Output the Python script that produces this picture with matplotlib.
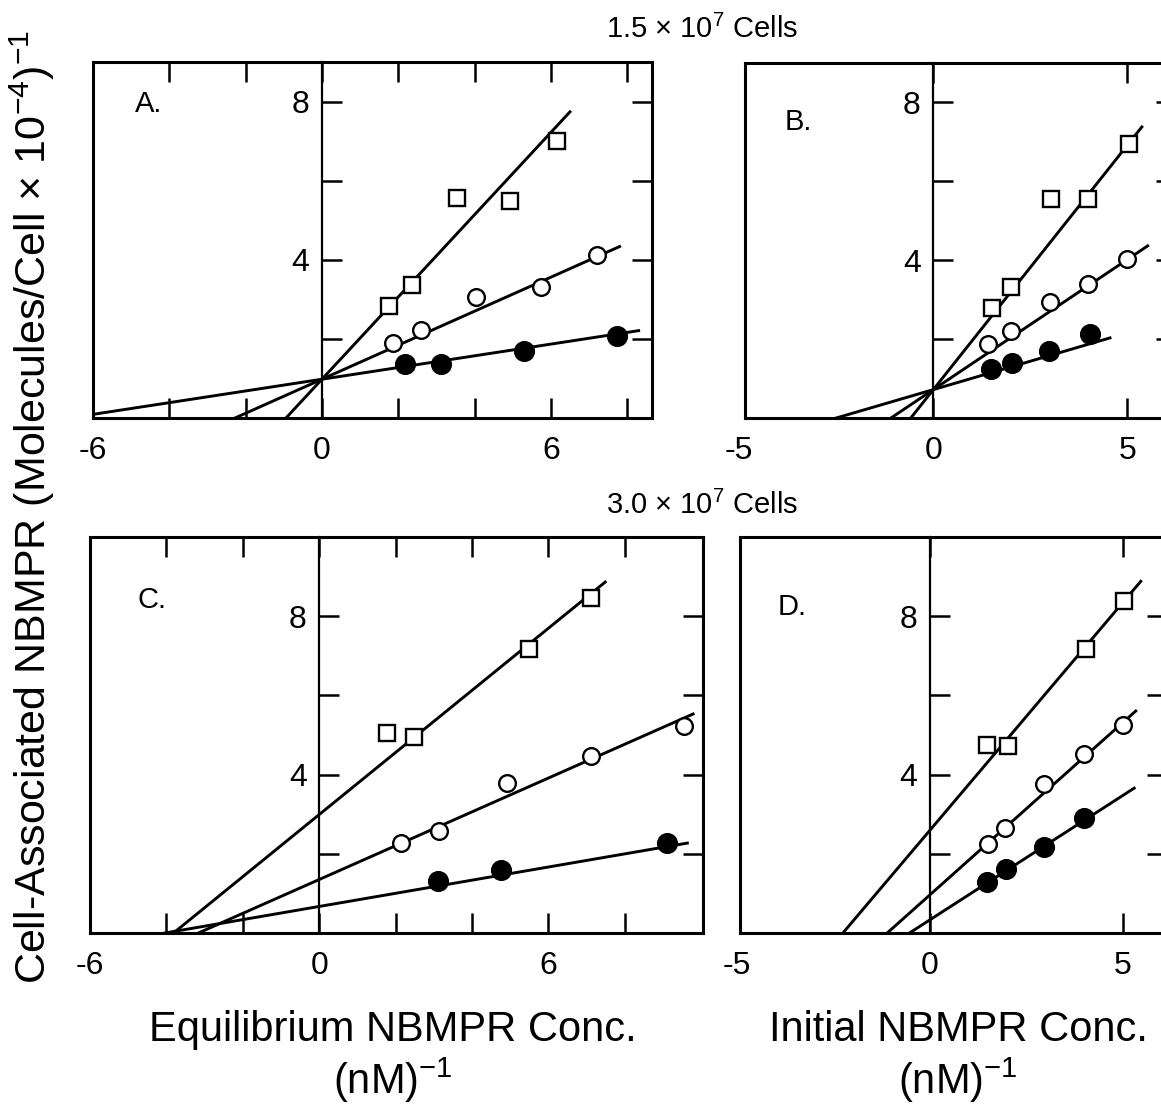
import matplotlib
matplotlib.use("Agg")
import matplotlib.pyplot as plt
from matplotlib.lines import Line2D
import numpy as np

FAMILY = ["Liberation Sans", "DejaVu Sans"]
plt.rcParams["font.family"] = FAMILY
plt.rcParams["mathtext.fontset"] = "custom"
plt.rcParams["mathtext.rm"] = "Liberation Sans"
plt.rcParams["mathtext.it"] = "Liberation Sans"
plt.rcParams["mathtext.bf"] = "Liberation Sans"

# ---- Panel A: 1.5e7 cells, equilibrium concentration ----
a_sq_x = [1.75, 2.37, 3.55, 4.92, 6.15]
a_sq_y = [2.83, 3.36, 5.57, 5.49, 7.00]
a_oc_x = [1.87, 2.60, 4.05, 5.74, 7.22]
a_oc_y = [1.90, 2.23, 3.06, 3.30, 4.13]
a_fc_x = [2.17, 3.12, 5.30, 7.72]
a_fc_y = [1.36, 1.36, 1.70, 2.07]
# fitted lines: (intercept, slope, x_start, x_end) for squares, open, filled
a_fits = [(0.98, 1.04, -0.94, 6.50), (0.98, 0.43, -2.28, 7.80), (0.98, 0.148, -6.60, 8.30)]

# ---- Panel B: 1.5e7 cells, initial concentration ----
b_sq_x = [1.51, 2.01, 3.02, 3.99, 5.03]
b_sq_y = [2.80, 3.33, 5.55, 5.55, 6.95]
b_oc_x = [1.42, 2.01, 3.00, 3.99, 5.00]
b_oc_y = [1.88, 2.20, 2.95, 3.39, 4.03]
b_fc_x = [1.49, 2.03, 2.97, 4.03]
b_fc_y = [1.23, 1.40, 1.69, 2.12]
b_fits = [(0.72, 1.24, -0.58, 5.37), (0.72, 0.66, -1.09, 5.52), (0.72, 0.288, -2.50, 4.55)]

# ---- Panel C: 3.0e7 cells, equilibrium concentration ----
c_sq_x = [1.77, 2.49, 5.49, 7.11]
c_sq_y = [5.04, 4.94, 7.18, 8.45]
c_oc_x = [2.15, 3.13, 4.92, 7.13, 9.54]
c_oc_y = [2.27, 2.57, 3.79, 4.46, 5.22]
c_fc_x = [3.11, 4.75, 9.10]
c_fc_y = [1.31, 1.58, 2.27]
c_fits = [(2.99, 0.784, -3.81, 7.49), (1.35, 0.427, -3.16, 9.79), (0.67, 0.166, -4.04, 9.64)]

# ---- Panel D: 3.0e7 cells, initial concentration ----
d_sq_x = [1.48, 2.03, 4.05, 5.04]
d_sq_y = [4.75, 4.73, 7.18, 8.38]
d_oc_x = [1.51, 1.94, 2.97, 4.01, 5.00]
d_oc_y = [2.26, 2.64, 3.77, 4.52, 5.26]
d_fc_x = [1.48, 1.97, 2.97, 4.01]
d_fc_y = [1.30, 1.61, 2.16, 2.90]
d_fits = [(2.59, 1.15, -2.25, 5.47), (0.96, 0.87, -1.10, 5.34), (0.33, 0.628, -0.53, 5.30)]

W, H = 1161, 1110
fig = plt.figure(figsize=(W / 100, H / 100), dpi=100)
fig.patch.set_facecolor("white")


def rect(left, top, right, bottom):
    return [left / W, 1 - bottom / H, (right - left) / W, (bottom - top) / H]


def panel(box, xlim, ylim, xmarks, xlabels, letter, letter_xy, sq, oc, fc, fits):
    ax = fig.add_axes(box)
    ax.set_xlim(*xlim)
    ax.set_ylim(*ylim)
    for s in ("top", "right", "bottom"):
        ax.spines[s].set_linewidth(2.2)
    # the y axis sits on x = 0; a separate frame line closes the box on the left
    ax.spines["left"].set_position(("data", 0))
    ax.spines["left"].set_linewidth(1.6)
    ax.add_line(Line2D([0, 0], [0, 1], transform=ax.transAxes, color="black",
                       linewidth=2.2, clip_on=False, solid_capstyle="projecting"))

    ax.set_xticks(xmarks)
    ax.set_xticklabels([])
    ax.set_yticks([2, 4, 6, 8])
    ax.set_yticklabels(["", "4", "", "8"])
    ax.tick_params(axis="x", which="major", direction="in", top=True, bottom=True,
                   length=14.5, width=1.8)
    ax.tick_params(axis="y", which="major", direction="in", left=True, right=True,
                   length=14.5, width=1.8, pad=9, labelsize=23)
    for v, s in xlabels:
        ax.annotate(s, xy=(v, 0), xycoords=("data", "axes fraction"),
                    xytext=(0, -13), textcoords="offset points",
                    ha="center", va="top", fontsize=23, annotation_clip=False)

    kw = dict(linestyle="none", markeredgecolor="black", markeredgewidth=1.7)
    for (b0, m, x0, x1) in fits:
        xs = np.array([x0, x1])
        ax.plot(xs, b0 + m * xs, color="black", linewidth=2.1, zorder=2)
    ax.plot(*sq, marker="s", markersize=11, markerfacecolor="white", zorder=3, **kw)
    ax.plot(*oc, marker="o", markersize=12, markerfacecolor="white", zorder=3, **kw)
    ax.plot(*fc, marker="o", markersize=13.5, markerfacecolor="black", zorder=3, **kw)
    ax.text(letter_xy[0], letter_xy[1], letter, transform=ax.transAxes,
            fontsize=21, ha="left", va="center")
    return ax


panel(rect(93, 62, 652, 418), (-6, 8.65), (0, 9), [-6, -4, -2, 0, 2, 4, 6, 8],
      [(-6, "-6"), (0, "0"), (6, "6")], "A.", (0.075, 0.882),
      (a_sq_x, a_sq_y), (a_oc_x, a_oc_y), (a_fc_x, a_fc_y), a_fits)
panel(rect(745, 63, 1176, 418), (-4.85, 6.25), (0, 9), [0, 5],
      [(-5, "-5"), (0, "0"), (5, "5")], "B.", (0.093, 0.834),
      (b_sq_x, b_sq_y), (b_oc_x, b_oc_y), (b_fc_x, b_fc_y), b_fits)
panel(rect(90, 537, 703, 933), (-6, 10.05), (0, 10), [-6, -4, -2, 0, 2, 4, 6, 8],
      [(-6, "-6"), (0, "0"), (6, "6")], "C.", (0.077, 0.841),
      (c_sq_x, c_sq_y), (c_oc_x, c_oc_y), (c_fc_x, c_fc_y), c_fits)
panel(rect(740, 537, 1167, 933), (-4.92, 6.15), (0, 10), [0, 5],
      [(-5, "-5"), (0, "0"), (5, "5")], "D.", (0.089, 0.823),
      (d_sq_x, d_sq_y), (d_oc_x, d_oc_y), (d_fc_x, d_fc_y), d_fits)

fig.text(702 / W, 1 - 29 / H, "1.5 \u00d7 10$^{7}$ Cells", ha="center", va="center", fontsize=21)
fig.text(702 / W, 1 - 505 / H, "3.0 \u00d7 10$^{7}$ Cells", ha="center", va="center", fontsize=21)
fig.text(32 / W, 1 - 507 / H,
         "Cell-Associated NBMPR (Molecules/Cell \u00d7 10$^{-4}$)$^{-1}$",
         rotation=90, ha="center", va="center", fontsize=31)
fig.text(393 / W, 1 - 1030 / H, "Equilibrium NBMPR Conc.", ha="center", va="center", fontsize=30)
fig.text(393 / W, 1 - 1080 / H, r"(nM)$^{-1}$", ha="center", va="center", fontsize=30)
fig.text(958 / W, 1 - 1030 / H, "Initial NBMPR Conc.", ha="center", va="center", fontsize=30)
fig.text(958 / W, 1 - 1080 / H, r"(nM)$^{-1}$", ha="center", va="center", fontsize=30)

fig.savefig("out.png", dpi=100, facecolor="white")
